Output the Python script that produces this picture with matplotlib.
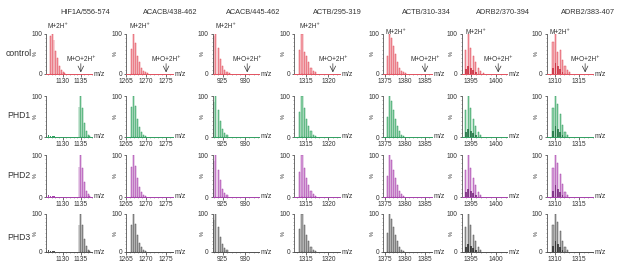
import matplotlib.pyplot as plt
from matplotlib.ticker import MultipleLocator

plt.rcParams['font.family'] = ['Liberation Sans', 'DejaVu Sans']

titles = ['HIF1A/556-574', 'ACACB/438-462', 'ACACB/445-462', 'ACTB/295-319',
          'ACTB/310-334', 'ADRB2/370-394', 'ADRB2/383-407']
rows = ['control', 'PHD1', 'PHD2', 'PHD3']

# m/z window and tick labels of each peptide
xlims = [(1125.4, 1138), (1265, 1276.8), (922.8, 933.2), (1312.3, 1322.6),
         (1374.5, 1386.75), (1393.2, 1402.2), (1308.3, 1318)]
xticks = [[1130, 1135], [1265, 1270, 1275], [925, 930], [1315, 1320],
          [1375, 1380, 1385], [1395, 1400], [1310, 1315]]

# isotope envelopes: first peak m/z, then relative intensity (%) every 0.5 m/z
ctrl_start = [1126.6, 1266.4, 923.0, 1313.6, 1375.5, 1394.0, 1309.6]
ctrl_int = [
    [95, 100, 85, 57, 40, 20, 10, 5, 2],
    [62, 100, 78, 45, 30, 15, 8, 4, 2],
    [95, 100, 65, 38, 20, 10, 5, 2],
    [60, 100, 55, 45, 30, 15, 8, 4],
    [45, 100, 90, 70, 50, 30, 15, 8, 4, 2],
    [60, 100, 65, 45, 30, 15, 8, 3],
    [80, 100, 55, 60, 35, 20, 10, 4],
]
phd_start = [1134.5, 1266.4, 923.0, 1313.6, 1375.5, 1394.0, 1309.6]
phd_int = [
    [72, 100, 70, 35, 15, 6, 3],
    [72, 100, 75, 45, 25, 12, 5, 2],
    [85, 100, 65, 40, 20, 10, 4],
    [60, 100, 70, 45, 28, 14, 6, 3],
    [50, 100, 88, 65, 45, 28, 14, 6, 3],
    [65, 100, 70, 45, 28, 12, 5],
    [70, 100, 80, 55, 30, 12, 5],
]
# darker co-eluting species seen under the ADRB2 envelopes
inner_int = [[], [], [], [], [], [12, 20, 15, 10, 5], [15, 28, 20, 12, 5]]
# unmodified remnant in PHD rows for HIF1A
hif_resid = [3, 4, 3, 3, 2]
# position of the M+O+2H+ arrow
mo_arrow = [1135, 1275, 930.5, 1321, 1385, 1400.5, 1316.3]

fills = ['#f5a9b0', '#93d3ab', '#d9a3db', '#b0b0b0']
edges = ['#e2505e', '#2f9e5e', '#a640ab', '#4f4f4f']
inner_c = ['#c8283a', '#1c6e3e', '#74257a', '#2a2a2a']

W, H = 617, 278
left_px = [46, 126, 212.7, 294, 383, 461.7, 546.7]
right_px = [91.7, 173.3, 259.3, 340, 432, 506.7, 593.3]
top_px = [34, 96, 155, 214]
bot_px = [74, 137, 197, 252]
title_x = [85, 170, 253, 337, 426, 503, 588]
lab_y = [27, 27, 26, 27, 32, 33, 32]
lab_x = [47, 129, 215, 300, 385, 465, 550]
row_y = [53, 115, 175, 237]
txt = '#333333'

fig = plt.figure(figsize=(W / 100, H / 100), dpi=100)

for c in range(7):
    fig.text(title_x[c] / W, 1 - 12 / H, titles[c], ha='center', va='center',
             fontsize=5.3, color=txt)
for r in range(4):
    fig.text(19 / W, 1 - row_y[r] / H, rows[r], ha='center', va='center',
             fontsize=6.2, color=txt)

for r in range(4):
    for c in range(7):
        l, rr = left_px[c], right_px[c]
        ax = fig.add_axes([l / W, 1 - bot_px[r] / H, (rr - l) / W,
                           (bot_px[r] - top_px[r]) / H])
        if r == 0:
            start, vals = ctrl_start[c], ctrl_int[c]
        else:
            start, vals = phd_start[c], phd_int[c]
        xs = [start + 0.5 * i for i in range(len(vals))]
        ax.bar(xs, vals, width=0.25, color=fills[r], edgecolor=edges[r], lw=0.35)
        if inner_int[c]:
            xi = [start + 0.5 * i for i in range(len(inner_int[c]))]
            ax.bar(xi, inner_int[c], width=0.35, color=inner_c[r], lw=0, alpha=0.8)
        if c == 0 and r > 0:
            xr = [ctrl_start[0] - 1 + 0.5 * i for i in range(len(hif_resid))]
            ax.bar(xr, hif_resid, width=0.3, color=edges[r], lw=0)

        ax.set_xlim(*xlims[c])
        ax.set_ylim(0, 100)
        for s in ['top', 'right']:
            ax.spines[s].set_visible(False)
        ax.spines['left'].set_color('#555555')
        ax.spines['left'].set_linewidth(0.6)
        ax.spines['bottom'].set_color(edges[r])
        ax.spines['bottom'].set_linewidth(0.7)

        ax.set_yticks([0, 100])
        ax.set_xticks(xticks[c])
        ax.yaxis.set_minor_locator(MultipleLocator(10))
        ax.xaxis.set_minor_locator(MultipleLocator(1))
        ax.tick_params(labelsize=4.8, length=1.8, width=0.5, pad=1, colors=txt)
        ax.tick_params(which='minor', length=1, width=0.4, colors='#777777')
        ax.set_ylabel('%', fontsize=4, color=txt, labelpad=0)
        ax.yaxis.set_label_coords(-0.17, 0.5)
        ax.text(1.03, 0, 'm/z', transform=ax.transAxes, ha='left', va='center',
                fontsize=5, color=txt)

        if r == 0:
            w = rr - l
            hgt = bot_px[0] - top_px[0]
            ax.text((lab_x[c] - l) / w, (bot_px[0] - lab_y[c]) / hgt, 'M+2H⁺',
                    transform=ax.transAxes, ha='left', va='center', fontsize=4.7,
                    color=txt)
            ax.text(mo_arrow[c], 36, 'M+O+2H⁺', ha='center', va='center',
                    fontsize=4.7, color=txt, clip_on=False)
            ax.annotate('', xy=(mo_arrow[c], 4), xytext=(mo_arrow[c], 26),
                        arrowprops=dict(arrowstyle='->', lw=0.5, color=txt,
                                        shrinkA=0, shrinkB=0))

plt.savefig('out.png', dpi=100)
